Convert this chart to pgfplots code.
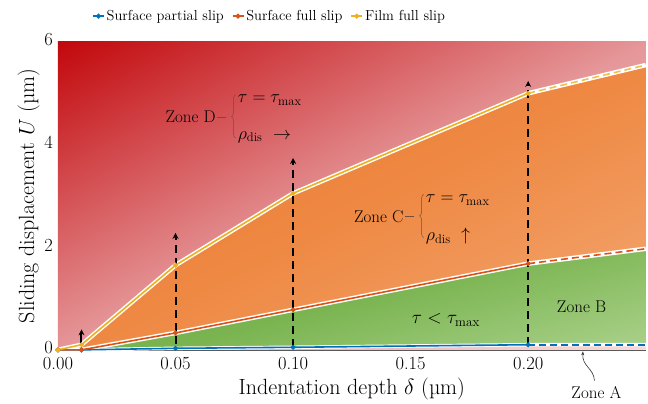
\RequirePackage{fix-cm}
\documentclass[border=0pt]{standalone}
\usepackage{fontspec}
\usepackage{pgfplots}
\pgfplotsset{compat=1.18}
\usepgfplotslibrary{fillbetween}
\tikzset{fill between/on layer=main}
\usetikzlibrary{decorations.pathreplacing,arrows.meta}
\definecolor{mblue}{RGB}{0,114,189}
\definecolor{mred}{RGB}{217,83,25}
\definecolor{myel}{RGB}{237,177,32}
\definecolor{bgdark}{RGB}{194,8,12}
\definecolor{bgmid}{RGB}{229,150,152}
\definecolor{bglight}{RGB}{248,218,218}
\definecolor{ordark}{RGB}{233,118,44}
\definecolor{ormid}{RGB}{238,136,66}
\definecolor{orlight}{RGB}{244,170,120}
\definecolor{grdark}{RGB}{100,166,58}
\definecolor{grmid}{RGB}{122,180,80}
\definecolor{grlight}{RGB}{178,214,148}
\definecolor{bracec}{RGB}{110,80,60}
\pgfdeclareverticalshading{bgsh}{100bp}{color(0bp)=(bglight); color(14.6bp)=(bglight); color(50bp)=(bgmid); color(85.4bp)=(bgdark); color(100bp)=(bgdark)}
\pgfdeclareverticalshading{orsh}{100bp}{color(0bp)=(orlight); color(14.6bp)=(orlight); color(50bp)=(ormid); color(85.4bp)=(ordark); color(100bp)=(ordark)}
\pgfdeclareverticalshading{grsh}{100bp}{color(0bp)=(grlight); color(14.6bp)=(grlight); color(50bp)=(grmid); color(85.4bp)=(grdark); color(100bp)=(grdark)}
\begin{document}
\begin{tikzpicture}
% background gradient (axis box is 588pt x 308pt with south west at the origin)
\begin{scope}[transform canvas={xscale=5.88,yscale=3.08}]
\shade[shading=bgsh, shading angle=45] (0,0) rectangle (100pt,100pt);
\end{scope}
\begin{axis}[
  scale only axis, width=588pt, height=308pt,
  xmin=0, xmax=0.25, ymin=0, ymax=6,
  clip=false,
  axis line style={gray!70!black, line width=0.6pt},
  xtick={0,0.05,0.10,0.15,0.20},
  xticklabels={0.00,0.05,0.10,0.15,0.20},
  minor xtick={0.025,0.075,0.125,0.175,0.225},
  ytick={0,2,4,6}, minor ytick={1,3,5},
  tick style={gray!60!black, line width=0.5pt},
  major tick length=4pt, minor tick length=3pt,
  tick label style={font=\fontsize{18.5}{22}\selectfont, inner sep=1pt},
  xticklabel style={yshift=-6.5pt},
  yticklabel style={xshift=-4pt, yshift=2pt},
  xlabel={Indentation depth $\delta$ (µm)},
  ylabel={Sliding displacement $U$ (µm)},
  label style={font=\fontsize{22}{26}\selectfont},
  xlabel style={at={(axis description cs:0.5,-0.128)}, anchor=center},
  ylabel style={at={(axis description cs:-0.05,0.5)}, anchor=center},
  legend style={at={(0.36,1.084)}, anchor=center, draw=none, fill=none,
    font=\fontsize{14.5}{17}\selectfont, legend columns=-1,
    /tikz/every even column/.append style={column sep=6pt}},
  legend image code/.code={\draw[#1, line width=1.5pt] (0pt,0pt) -- (11pt,0pt);
     \draw[#1] plot coordinates {(5.5pt,0pt)};},
]
% boundary curves
\addplot[name path=blue, draw=none, forget plot] coordinates {(0,0) (0.01,0) (0.05,0.03) (0.10,0.05) (0.20,0.10) (0.25,0.10)};
\addplot[name path=red, draw=none, forget plot] coordinates {(0,0) (0.01,0) (0.05,0.33) (0.10,0.78) (0.20,1.68) (0.25,1.97)};
\addplot[name path=yel, draw=none, forget plot] coordinates {(0,0) (0.01,0.1) (0.05,1.65) (0.10,3.05) (0.20,5.0) (0.25,5.55)};
% fills
\addplot[draw=none, shade, shading=orsh, shading angle=26, forget plot] fill between[of=red and yel];
\addplot[draw=none, shade, shading=grsh, shading angle=15, forget plot] fill between[of=blue and red];
% white halos
\addplot[white, line width=4.5pt, forget plot] coordinates {(0,0) (0.01,0.1) (0.05,1.65) (0.10,3.05) (0.20,5.0) (0.25,5.55)};
\addplot[white, line width=4.5pt, forget plot] coordinates {(0,0) (0.01,0) (0.05,0.33) (0.10,0.78) (0.20,1.68) (0.25,1.97)};
\addplot[white, line width=3.5pt, forget plot] coordinates {(0,0) (0.01,0) (0.05,0.03) (0.10,0.05) (0.20,0.10) (0.25,0.10)};
% dashed extensions
\addplot[mblue, line width=1.6pt, dash pattern=on 7pt off 4pt, forget plot] coordinates {(0.20,0.10) (0.25,0.10)};
\addplot[mred, line width=1.6pt, dash pattern=on 7pt off 4pt, forget plot] coordinates {(0.20,1.68) (0.25,1.97)};
\addplot[myel!80, line width=1.6pt, dash pattern=on 7pt off 4pt, forget plot] coordinates {(0.20,5.0) (0.25,5.55)};
% main series
\addplot[mblue, line width=1.6pt, mark=*, mark size=1.6pt] coordinates {(0,0) (0.01,0) (0.05,0.03) (0.10,0.05) (0.20,0.10)};
\addlegendentry{Surface partial slip}
\addplot[mred, line width=1.6pt, mark=*, mark size=1.6pt] coordinates {(0,0) (0.01,0) (0.05,0.33) (0.10,0.78) (0.20,1.68)};
\addlegendentry{Surface full slip}
\addplot[myel, line width=1.6pt, mark=*, mark size=1.6pt] coordinates {(0,0) (0.01,0.1) (0.05,1.65) (0.10,3.05) (0.20,5.0)};
\addlegendentry{Film full slip}
% arrows
\draw[black, line width=2pt, -{Stealth[length=6pt,width=6pt]}] (axis cs:0.01,0.08) -- (axis cs:0.01,0.40);
\draw[black, line width=2pt, dash pattern=on 8pt off 5pt, -{Stealth[length=6pt,width=6pt]}] (axis cs:0.05,0.12) -- (axis cs:0.05,2.28);
\draw[black, line width=2pt, dash pattern=on 8pt off 5pt, -{Stealth[length=6pt,width=6pt]}] (axis cs:0.10,0.06) -- (axis cs:0.10,3.74);
\draw[black, line width=2pt, dash pattern=on 8pt off 5pt, -{Stealth[length=6pt,width=6pt]}] (axis cs:0.20,0.10) -- (axis cs:0.20,5.24);
% zone D
\node[anchor=east, font=\fontsize{17}{20}\selectfont, inner sep=1pt] at (axis cs:0.0676,4.54) {Zone D};
\draw[bracec, line width=0.5pt, decorate, decoration={brace, amplitude=4pt, mirror}] (axis cs:0.0755,4.97) -- (axis cs:0.0755,4.13);
\draw[bracec, line width=0.5pt] (axis cs:0.0678,4.54) -- (axis cs:0.0716,4.54);
\node[anchor=west, font=\fontsize{18}{21}\selectfont, inner sep=1pt] at (axis cs:0.0760,4.86) {$\tau = \tau_{\max}$};
\node[anchor=west, font=\fontsize{18}{21}\selectfont, inner sep=1pt] at (axis cs:0.0760,4.15) {$\rho_{\mathrm{dis}}\ \rightarrow$};
% zone C
\node[anchor=east, font=\fontsize{17}{20}\selectfont, inner sep=1pt] at (axis cs:0.1475,2.60) {Zone C};
\draw[bracec, line width=0.5pt, decorate, decoration={brace, amplitude=4pt, mirror}] (axis cs:0.1555,3.03) -- (axis cs:0.1555,2.19);
\draw[bracec, line width=0.5pt] (axis cs:0.1477,2.60) -- (axis cs:0.1516,2.60);
\node[anchor=west, font=\fontsize{18}{21}\selectfont, inner sep=1pt] at (axis cs:0.1560,2.92) {$\tau = \tau_{\max}$};
\node[anchor=west, font=\fontsize{18}{21}\selectfont, inner sep=1pt] at (axis cs:0.1560,2.22) {$\rho_{\mathrm{dis}}\ \uparrow$};
% zone B, A
\node[font=\fontsize{19}{22}\selectfont] at (axis cs:0.165,0.58) {$\tau < \tau_{\max}$};
\node[font=\fontsize{17}{20}\selectfont] at (axis cs:0.2227,0.84) {Zone B};
\node[font=\fontsize{17}{20}\selectfont] at (axis cs:0.2290,-0.84) {Zone A};
\draw[black!80, line width=0.6pt, -{Stealth[length=4pt,width=3pt]}] (axis cs:0.2282,-0.60) .. controls (axis cs:0.2278,-0.35) and (axis cs:0.2228,-0.32) .. (axis cs:0.2233,-0.03);
\end{axis}
\path ([shift={(-58pt,-54pt)}]current axis.south west) rectangle ([shift={(2pt,42pt)}]current axis.north east);
\end{tikzpicture}
\end{document}
